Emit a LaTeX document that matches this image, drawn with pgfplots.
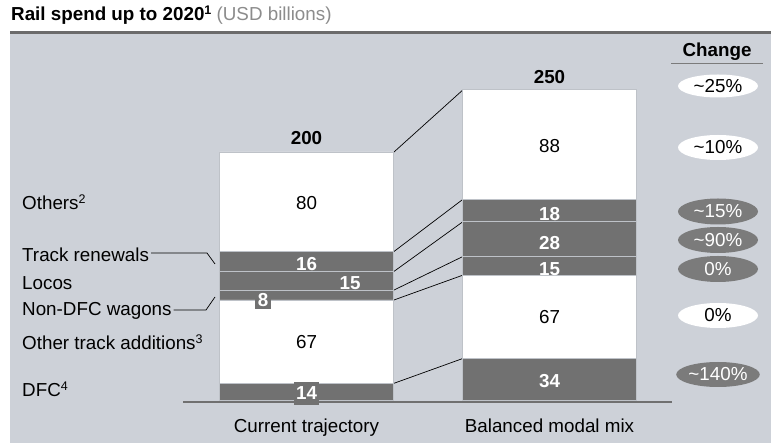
\documentclass[border=0pt]{standalone}
\usepackage{fontspec}
\setmainfont{Liberation Sans}
\usepackage{pgfplots}
\pgfplotsset{compat=1.18}
\usetikzlibrary{shapes.geometric}
\definecolor{bg}{HTML}{CDD1D8}
\definecolor{barg}{HTML}{717171}
\definecolor{ellg}{HTML}{7B7B7B}
\definecolor{edge}{HTML}{BEC2C8}
\definecolor{topline}{HTML}{6B6B6B}
\definecolor{subt}{HTML}{8C8C8C}
\definecolor{basel}{HTML}{707070}
% pixel position (x from left, y from top) in picture coordinates
\def\pp#1#2{(#1pt,{443pt-#2pt})}
\newcommand\supnum[1]{\raisebox{0.33em}{\fontsize{12.5}{12.5}\selectfont #1}}
\begin{document}
\fontsize{18.8}{22}\selectfont
\begin{tikzpicture}
% page background and panel
\fill[white] (0,0) rectangle (771pt,443pt);
\fill[bg] (10pt,0) rectangle (771pt,{443pt-34.5pt});
\fill[topline] (10pt,{443pt-34.5pt}) rectangle (771pt,{443pt-31.5pt});
\begin{axis}[
  scale only axis, width=771pt, height=443pt,
  xmin=0, xmax=771, ymin=-34.02, ymax=322.24,
  axis lines=none, ticks=none, clip=false,
  ybar stacked, bar width=174pt,
]
% bottom to top: DFC, Other track additions, Non-DFC wagons, Locos, Track renewals, Others
\addplot[fill=barg, draw=edge, line width=0.9pt] coordinates {(306.5,14) (549.5,34)};
\addplot[fill=white, draw=edge, line width=0.9pt] coordinates {(306.5,67) (549.5,67)};
\addplot[fill=barg, draw=edge, line width=0.9pt] coordinates {(306.5,8) (549.5,15)};
\addplot[fill=barg, draw=edge, line width=0.9pt] coordinates {(306.5,15) (549.5,28)};
\addplot[fill=barg, draw=edge, line width=0.9pt] coordinates {(306.5,16) (549.5,18)};
\addplot[fill=white, draw=edge, line width=0.9pt] coordinates {(306.5,80) (549.5,88)};

% connectors between bars
\draw[black, line width=0.7pt] (axis cs:394,200) -- (axis cs:463,250);
\draw[black, line width=0.7pt] (axis cs:394,120) -- (axis cs:463,162);
\draw[black, line width=0.7pt] (axis cs:394,104) -- (axis cs:463,144);
\draw[black, line width=0.7pt] (axis cs:394,89) -- (axis cs:463,116);
\draw[black, line width=0.7pt] (axis cs:394,81) -- (axis cs:463,101);
\draw[black, line width=0.7pt] (axis cs:394,14) -- (axis cs:463,34);
\end{axis}

% baseline
\draw[basel, line width=2.7pt] \pp{183}{402} -- \pp{672}{402};

% segment values, left bar
\node at \pp{306.5}{203} {80};
\node[text=white, font=\bfseries] at \pp{306.5}{264} {16};
\node[text=white, font=\bfseries] at \pp{350}{283} {15};
\node[fill=barg, text=white, font=\bfseries, inner sep=0pt, minimum width=16pt, minimum height=17pt] at \pp{263}{300.5} {8};
\node at \pp{306.5}{342} {67};
\node[fill=barg, text=white, font=\bfseries, inner sep=0pt, minimum width=25pt, minimum height=23pt] at \pp{306.5}{393.5} {14};
% segment values, right bar
\node at \pp{549.5}{146} {88};
\node[text=white, font=\bfseries] at \pp{549.5}{214} {18};
\node[text=white, font=\bfseries] at \pp{549.5}{243} {28};
\node[text=white, font=\bfseries] at \pp{549.5}{269} {15};
\node at \pp{549.5}{317} {67};
\node[text=white, font=\bfseries] at \pp{549.5}{381} {34};

% totals
\node[font=\bfseries] at \pp{306.5}{138.3} {200};
\node[font=\bfseries] at \pp{549.5}{77} {250};

% category labels
\node[anchor=base] at \pp{306.5}{433} {Current trajectory};
\node[anchor=base] at \pp{549.5}{433} {Balanced modal mix};

% left labels
\node[anchor=base west, inner sep=0pt] at \pp{22}{210} {Others\supnum{2}};
\node[anchor=base west, inner sep=0pt] at \pp{22}{261.5} {Track renewals};
\node[anchor=base west, inner sep=0pt] at \pp{22}{290} {Locos};
\node[anchor=base west, inner sep=0pt] at \pp{22}{316} {Non-DFC wagons};
\node[anchor=base west, inner sep=0pt] at \pp{22}{349.5} {Other track additions\supnum{3}};
\node[anchor=base west, inner sep=0pt] at \pp{22}{397} {DFC\supnum{4}};
\draw[black, line width=0.7pt] \pp{151}{253} -- \pp{207}{253} -- \pp{215}{264};
\draw[black, line width=0.7pt] \pp{173.5}{310} -- \pp{206}{310} -- \pp{215}{297};

% title
\node[anchor=base west, inner sep=0pt] at \pp{11}{21} {\textbf{Rail spend up to 2020\supnum{1}} \textcolor{subt}{(USD billions)}};

% change column
\node[anchor=base, font=\bfseries] at \pp{717}{56.5} {Change};
\draw[ellg, line width=1pt] \pp{671}{63.3} -- \pp{763}{63.3};
\node[ellipse, fill=white, minimum width=80pt, minimum height=23pt, inner sep=0pt] at \pp{718}{86} {\textasciitilde 25\%};
\node[ellipse, fill=white, minimum width=80pt, minimum height=25pt, inner sep=0pt] at \pp{718}{147.5} {\textasciitilde 10\%};
\node[ellipse, fill=ellg, text=white, minimum width=80pt, minimum height=26pt, inner sep=0pt] at \pp{718}{211.5} {\textasciitilde 15\%};
\node[ellipse, fill=ellg, text=white, minimum width=80pt, minimum height=26pt, inner sep=0pt] at \pp{718}{240} {\textasciitilde 90\%};
\node[ellipse, fill=ellg, text=white, minimum width=80pt, minimum height=26pt, inner sep=0pt] at \pp{718}{269} {0\%};
\node[ellipse, fill=white, minimum width=80pt, minimum height=25pt, inner sep=0pt] at \pp{718}{315.5} {0\%};
\node[ellipse, fill=ellg, text=white, minimum width=80pt, minimum height=25pt, inner sep=0pt] at \pp{718}{374.5} {\textasciitilde 140\%};
\end{tikzpicture}
\end{document}
